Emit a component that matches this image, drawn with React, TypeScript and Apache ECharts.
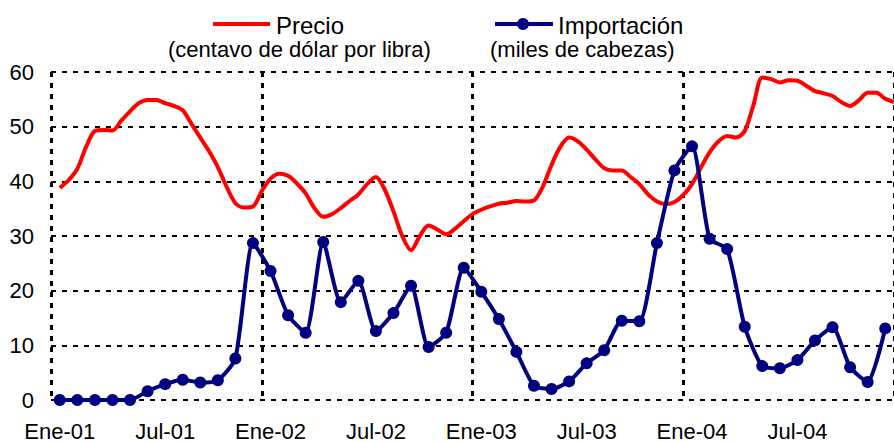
import React, { useEffect, useRef } from "react";
import * as echarts from "echarts";

const monthNames = ["Ene", "Feb", "Mar", "Abr", "May", "Jun", "Jul", "Ago", "Sep", "Oct", "Nov", "Dic"];
const years = ["01", "02", "03", "04"];
const categories: string[] = [];
years.forEach((y) => monthNames.forEach((m) => categories.push(`${m}-${y}`)));

// Importación (miles de cabezas), monthly
const importacion = [
  0, 0, 0, 0, 0, 1.6, 2.9, 3.7, 3.2, 3.6, 7.6, 28.7,
  23.6, 15.5, 12.3, 28.9, 17.9, 21.8, 12.6, 15.9, 20.9, 9.7, 12.3, 24.2,
  19.8, 14.8, 8.8, 2.6, 2.0, 3.4, 6.7, 9.1, 14.5, 14.4, 28.7, 42.0,
  46.4, 29.5, 27.6, 13.4, 6.2, 5.8, 7.3, 10.9, 13.3, 6.0, 3.3, 13.1,
];

// Precio (centavo de dólar por libra), half-monthly from Ene-01
const precio = [
  38.8, 40.2, 42.3, 46.3, 49.2, 49.4, 49.3, 51.1, 52.8, 54.3, 54.9, 54.9,
  54.3, 53.8, 53.0, 50.5, 48.0, 45.5, 42.6, 39.0, 36.0, 35.2, 35.4, 38.2,
  40.5, 41.4, 41.0, 39.6, 37.8, 35.1, 33.5, 34.0, 35.1, 36.4, 37.6, 39.5,
  40.8, 38.5, 34.5, 30.0, 27.4, 30.0, 31.9, 31.2, 30.3, 31.3, 32.7, 34.0,
  34.8, 35.4, 35.9, 36.1, 36.4, 36.3, 36.5, 39.0, 43.0, 46.3, 48.0, 47.3,
  45.8, 44.0, 42.4, 42.0, 42.0, 40.8, 39.5, 37.6, 36.3, 35.8, 36.2, 37.5,
  39.5, 42.5, 45.3, 47.3, 48.3, 48.0, 49.2, 54.0, 59.0, 58.7, 58.1, 58.5,
  58.4, 57.5, 56.5, 56.1, 55.6, 54.5, 53.8, 54.8, 56.2, 56.2, 55.1, 54.5,
];
const precioStep = 0.5; // months between price observations

const RED = "#FF0000";
const NAVY = "#000080";
const FONT = '"Liberation Sans", Arial, sans-serif';

export default function App() {
  const ref = useRef<HTMLDivElement>(null);
  useEffect(() => {
    if (!ref.current) return;
    const chart = echarts.init(ref.current, null, { renderer: "svg" });
    const dotted = { color: "#000", width: 2, type: [5, 6] as any };
    chart.setOption({
      animation: false,
      backgroundColor: "#fff",
      grid: { left: 51, top: 72, width: 852, height: 331 },
      xAxis: [
        {
          type: "category",
          data: categories,
          boundaryGap: true,
          axisLine: { show: false },
          axisTick: { show: false },
          axisLabel: {
            interval: 5,
            margin: 20,
            color: "#000",
            fontSize: 22,
            fontFamily: FONT,
          },
          splitLine: {
            show: true,
            interval: 11,
            lineStyle: { color: "#000", width: 3, type: [5, 6] },
          },
        },
        {
          type: "value",
          min: -0.5,
          max: categories.length - 0.5,
          show: false,
          splitLine: { show: false },
        },
      ],
      yAxis: {
        type: "value",
        min: 0,
        max: 60,
        interval: 10,
        axisLine: { show: false },
        axisTick: { show: false },
        axisLabel: { color: "#000", fontSize: 22, fontFamily: FONT, margin: 17 },
        splitLine: { show: true, lineStyle: dotted },
      },
      series: [
        {
          name: "Precio",
          type: "line",
          xAxisIndex: 1,
          data: precio.map((v, i) => [i * precioStep, v]),
          showSymbol: false,
          smooth: 0.3,
          lineStyle: { color: RED, width: 4 },
          itemStyle: { color: RED },
        },
        {
          name: "Importación",
          type: "line",
          xAxisIndex: 0,
          data: importacion,
          symbol: "circle",
          symbolSize: 12,
          showAllSymbol: true,
          smooth: 0.2,
          lineStyle: { color: NAVY, width: 4 },
          itemStyle: { color: NAVY },
        },
      ],
      graphic: [
        { type: "line", shape: { x1: 213, y1: 24, x2: 270, y2: 24 }, style: { stroke: RED, lineWidth: 4 } },
        {
          type: "text",
          style: { text: "Precio", x: 276, y: 25, font: `24px ${FONT}`, fill: "#000", textAlign: "left", textVerticalAlign: "middle" },
        },
        {
          type: "text",
          style: {
            text: "(centavo de dólar por libra)",
            x: 168,
            y: 49,
            font: `22px ${FONT}`,
            fill: "#000",
            textAlign: "left",
            textVerticalAlign: "middle",
          },
        },
        { type: "line", shape: { x1: 495, y1: 24, x2: 553, y2: 24 }, style: { stroke: NAVY, lineWidth: 4 } },
        { type: "circle", shape: { cx: 523, cy: 24, r: 6 }, style: { fill: NAVY } },
        {
          type: "text",
          style: { text: "Importación", x: 558, y: 25, font: `24px ${FONT}`, fill: "#000", textAlign: "left", textVerticalAlign: "middle" },
        },
        {
          type: "text",
          style: {
            text: "(miles de cabezas)",
            x: 490,
            y: 49,
            font: `22px ${FONT}`,
            fill: "#000",
            textAlign: "left",
            textVerticalAlign: "middle",
          },
        },
      ],
    });
    return () => chart.dispose();
  }, []);
  return (
    <div
      ref={ref}
      style={{ position: "fixed", left: 0, top: 0, width: 894, height: 442, background: "#fff" }}
    />
  );
}
